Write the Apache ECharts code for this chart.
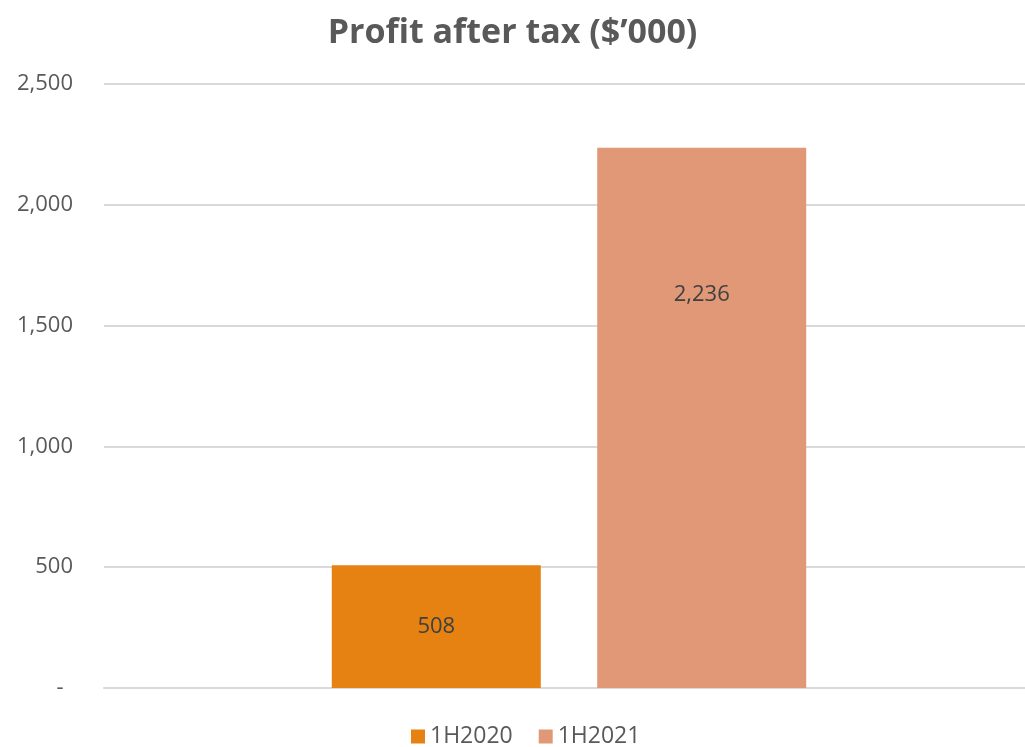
<!DOCTYPE html>
<html>
<head>
<meta charset="utf-8">
<script src="https://cdn.jsdelivr.net/npm/echarts@6/dist/echarts.min.js"></script>
<style>
  html, body { margin: 0; padding: 0; background: #fff; }
  #chart { width: 1025px; height: 747px; }
</style>
</head>
<body>
<div id="chart"></div>
<script>
const title = 'Profit after tax ($\u2019000)'
const categories = ['Profit after tax']
const seriesNames = ['1H2020', '1H2021']
const seriesValues = [[508], [2236]]
const colors = ['#E58212', '#E19877']

const font = "'Open Sans', 'Noto Sans', sans-serif"
const chart = echarts.init(document.getElementById('chart'))

// zero shows as a dash, like an accounting number format
const fmt = v => v === 0 ? '-\u2009 ' : v.toLocaleString('en-US')

const series = seriesNames.map((name, i) => ({
  name,
  type: 'bar',
  data: seriesValues[i],
  barWidth: 209,
  barGap: '27%',
  itemStyle: { color: colors[i] },
  label: {
    show: true,
    // the second label sits higher than the centre in the source
    position: i === 0 ? 'inside' : 'insideTop',
    distance: 136,
    color: '#404040',
    fontFamily: font,
    fontSize: 22,
    formatter: p => fmt(p.value)
  }
}))

chart.setOption({
  animation: false,
  title: {
    text: title,
    left: 'center',
    top: 11,
    textStyle: { color: '#595959', fontFamily: font, fontSize: 34, fontWeight: 'bold' }
  },
  legend: {
    bottom: -6,
    left: 406,
    itemWidth: 14,
    itemHeight: 14,
    itemGap: 26,
    icon: 'rect',
    textStyle: { color: '#595959', fontFamily: font, fontSize: 23 }
  },
  grid: { left: 104, width: 930, top: 84, bottom: 59, outerBoundsMode: 'none' },
  xAxis: {
    type: 'category',
    data: categories,
    axisLine: { lineStyle: { color: '#d9d9d9', width: 2 } },
    axisTick: { show: false },
    axisLabel: { show: false }
  },
  yAxis: {
    type: 'value',
    min: 0,
    max: 2500,
    interval: 500,
    axisLine: { show: false },
    axisTick: { show: false },
    splitLine: { lineStyle: { color: '#d9d9d9', width: 2 } },
    axisLabel: {
      color: '#595959',
      fontFamily: font,
      fontSize: 22,
      margin: 31,
      formatter: fmt
    }
  },
  series
})
</script>
</body>
</html>
